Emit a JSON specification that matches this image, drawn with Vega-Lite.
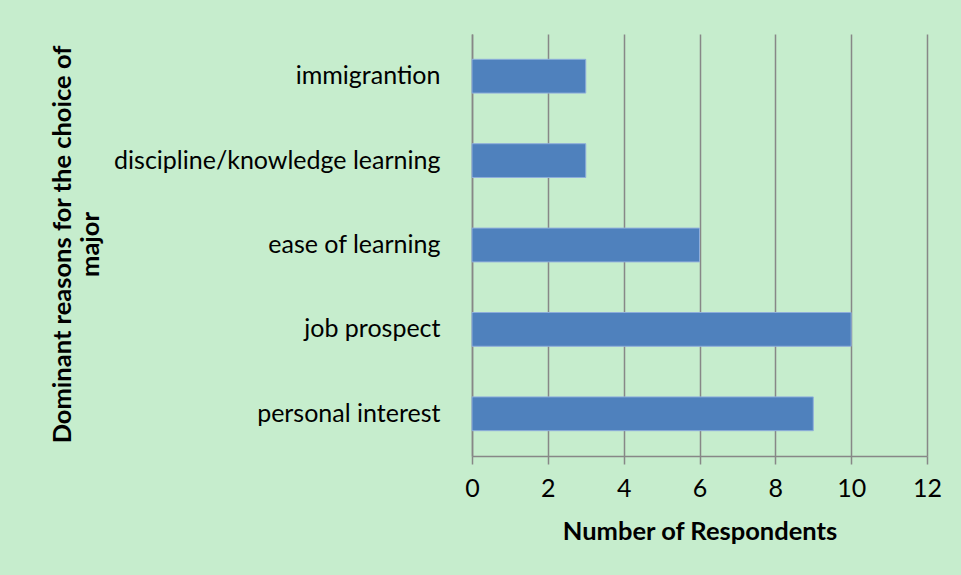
{
  "$schema": "https://vega.github.io/schema/vega-lite/v6.json",
  "autosize": {"type": "none"},
  "width": 455,
  "height": 422,
  "padding": {"left": 472, "top": 34, "right": 34, "bottom": 119},
  "background": "#C6EDCD",
  "config": {
    "view": {"stroke": null},
    "font": "Lato",
    "axis": {"labelFont": "Lato", "titleFont": "Lato", "labelColor": "#000000", "titleColor": "#000000"}
  },
  "data": {
    "values": [
      {"reason": "immigrantion", "respondents": 3},
      {"reason": "discipline/knowledge learning", "respondents": 3},
      {"reason": "ease of learning", "respondents": 6},
      {"reason": "job prospect", "respondents": 10},
      {"reason": "personal interest", "respondents": 9}
    ]
  },
  "mark": {"type": "bar", "color": "#4F81BD", "stroke": "#8FAEDB", "strokeWidth": 1},
  "encoding": {
    "y": {
      "field": "reason",
      "type": "nominal",
      "sort": null,
      "scale": {"paddingInner": 0.6, "paddingOuter": 0.3},
      "axis": {
        "title": ["Dominant reasons for the choice of", "major"],
        "titleFontSize": 25.5,
        "titleFontWeight": "bold",
        "titleAngle": -90,
        "titleAlign": "center",
        "titleBaseline": "middle",
        "titleX": -410,
        "titleY": 210,
        "titleLineHeight": 28,
        "labelFontSize": 25,
        "labelLimit": 0,
        "labelPadding": 32,
        "ticks": false,
        "domainColor": "#878787",
        "domainWidth": 1.5,
        "grid": false
      }
    },
    "x": {
      "field": "respondents",
      "type": "quantitative",
      "scale": {"domain": [0, 12], "nice": false},
      "axis": {
        "title": "Number of Respondents",
        "titleFontSize": 25.5,
        "titleFontWeight": "bold",
        "titlePadding": 18,
        "values": [0, 2, 4, 6, 8, 10, 12],
        "labelFontSize": 25,
        "labelFlush": false,
        "labelPadding": 12,
        "tickSize": 8,
        "tickColor": "#878787",
        "tickWidth": 1.5,
        "domainColor": "#878787",
        "domainWidth": 1.5,
        "grid": true,
        "gridColor": "#878787",
        "gridWidth": 1.5,
        "gridOpacity": 1
      }
    }
  }
}
